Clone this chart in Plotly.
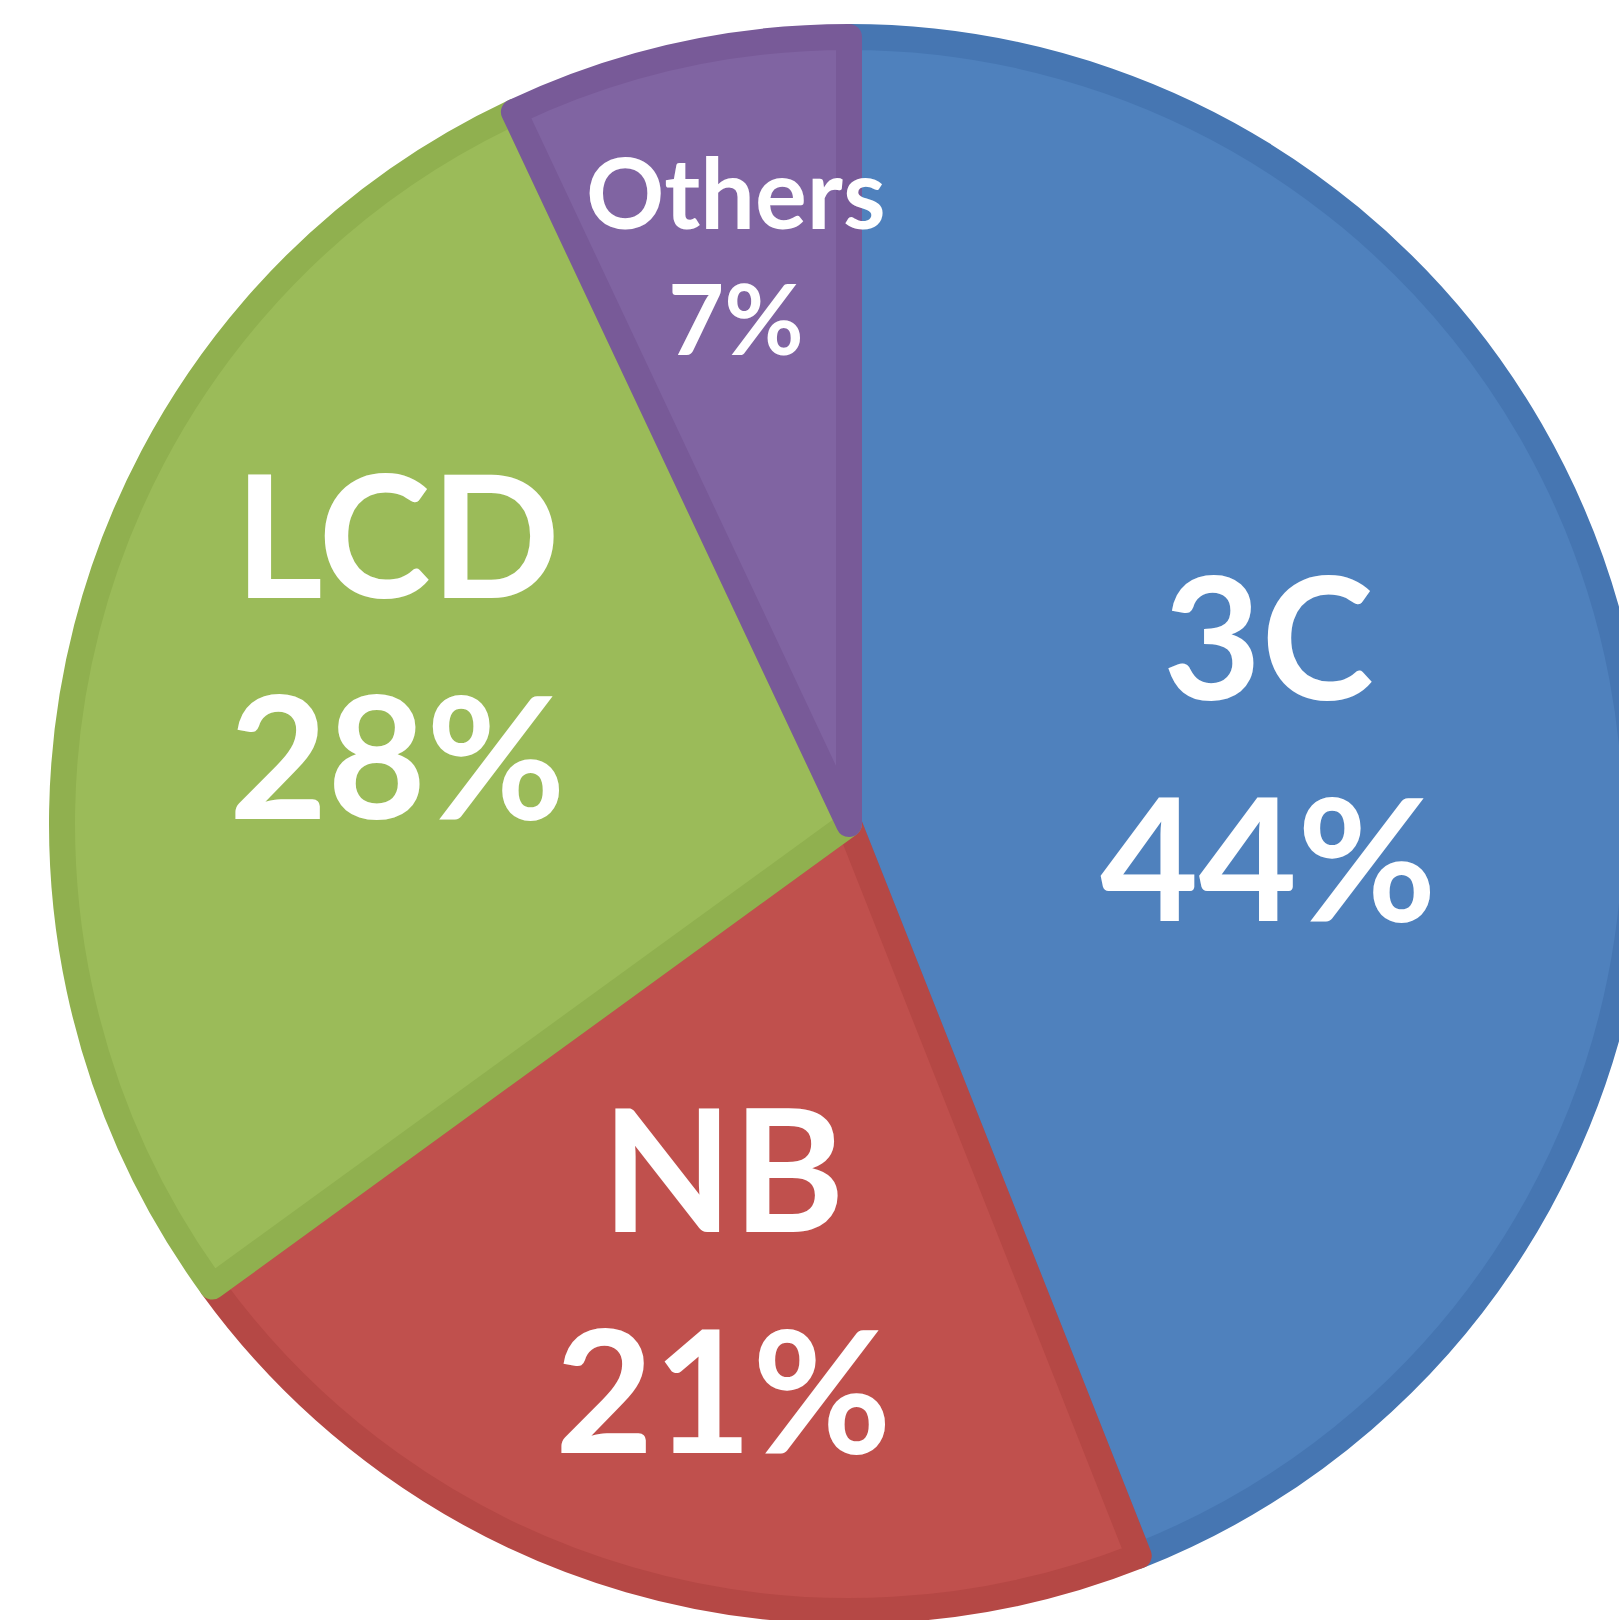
import plotly.graph_objects as go

# ---- data ----
categories = ["3C", "NB", "LCD", "Others"]
shares = [44, 21, 28, 7]

# ---- styles ----
fill_colors = ["#4F81BD", "#C0504D", "#9BBB59", "#8064A2"]
edge_colors = ["#4676B2", "#B54845", "#90B04F", "#785A98"]
label_sizes = [170, 170, 170, 97]
# label anchor points in page pixels (layout only)
label_px = [(1268, 744), (723, 1276), (397, 643), (736, 255)]

W, H = 1660, 1630
CX, CY, R = 849, 824, 787   # pie centre / radius in page pixels
STROKE = 26

fig = go.Figure(
    go.Pie(
        labels=categories,
        values=shares,
        sort=False,
        direction="clockwise",
        rotation=0,
        textinfo="none",
        hoverinfo="skip",
        marker=dict(colors=fill_colors, line=dict(color=edge_colors, width=STROKE)),
        domain=dict(x=[(CX - R) / W, (CX + R) / W],
                    y=[1 - (CY + R) / H, 1 - (CY - R) / H]),
        showlegend=False,
    )
)

for cat, val, size, (px, py) in zip(categories, shares, label_sizes, label_px):
    fig.add_annotation(
        x=px / W, y=1 - py / H, xref="paper", yref="paper",
        xanchor="center", yanchor="middle", showarrow=False,
        text=f"{cat}<br>{val}%",
        font=dict(family="Lato", size=size, color="white", weight="bold"),
    )

fig.update_layout(
    width=W, height=H,
    margin=dict(l=0, r=0, t=0, b=0, pad=0),
    paper_bgcolor="white", plot_bgcolor="white",
)

fig.write_html(
    "out.html",
    config={"displayModeBar": False},
    post_script="document.body.style.margin='0';document.body.style.overflow='hidden';document.documentElement.style.overflow='hidden';",
)
